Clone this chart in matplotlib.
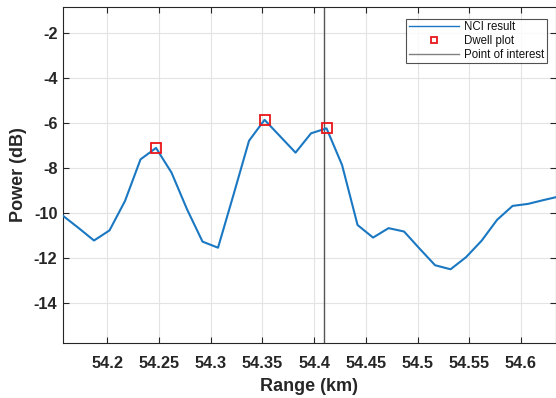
import numpy as np
import matplotlib
matplotlib.use('Agg')
import matplotlib.pyplot as plt

# Dados
range_km = [54.157, 54.172, 54.187, 54.202, 54.217, 54.232, 54.247, 54.262,
            54.277, 54.292, 54.307, 54.322, 54.337, 54.352, 54.367, 54.382,
            54.397, 54.412, 54.427, 54.442, 54.457, 54.472, 54.487, 54.502,
            54.517, 54.532, 54.547, 54.562, 54.577, 54.592, 54.607, 54.622,
            54.637]
power_db = [-10.14, -10.68, -11.24, -10.79, -9.48, -7.63, -7.12, -8.22,
            -9.85, -11.29, -11.56, -9.2, -6.8, -5.87, -6.6, -7.33,
            -6.47, -6.25, -7.88, -10.55, -11.11, -10.69, -10.84, -11.6,
            -12.34, -12.52, -11.98, -11.25, -10.32, -9.7, -9.61, -9.44,
            -9.28]
dwell_x = [54.247, 54.352, 54.412]
dwell_y = [-7.12, -5.87, -6.25]
poi_x = 54.41

xticks = [54.2, 54.25, 54.3, 54.35, 54.4, 54.45, 54.5, 54.55, 54.6]
xtick_labels = ['54.2', '54.25', '54.3', '54.35', '54.4', '54.45', '54.5', '54.55', '54.6']
yticks = [-14, -12, -10, -8, -6, -4, -2]

plt.rcParams['font.family'] = ['Liberation Sans', 'DejaVu Sans']

fig = plt.figure(figsize=(5.56, 3.98), dpi=100)
ax = fig.add_axes([0.1133, 0.1382, 0.8867, 0.8442])

ax.plot(range_km, power_db, color='#1a78c2', lw=1.5, label='NCI result', zorder=3)
ax.plot(dwell_x, dwell_y, ls='none', marker='s', ms=7, mfc='none', mec='#e8161b',
        mew=1.3, label='Dwell plot', zorder=4)
ax.axvline(poi_x, color='#555555', lw=1.0, label='Point of interest', zorder=2)

ax.set_xlim(54.157, 54.634)
ax.set_ylim(-15.8, -0.85)
ax.set_xticks(xticks)
ax.set_xticklabels(xtick_labels)
ax.set_yticks(yticks)
ax.set_yticklabels([str(v) for v in yticks])

ax.grid(True, color='#e3e3e3', lw=0.8)
ax.set_axisbelow(True)
ax.tick_params(direction='in', top=True, right=True, length=4, width=0.8,
               colors='#262626', labelsize=11.8)
ax.tick_params(axis='x', pad=9.5)
ax.tick_params(axis='y', pad=4)
for lab in ax.get_xticklabels() + ax.get_yticklabels():
    lab.set_fontweight('bold')
for s in ax.spines.values():
    s.set_color('#262626')
    s.set_linewidth(0.8)

ax.set_xlabel('Range (km)', fontsize=13, fontweight='bold', color='#262626', labelpad=5)
ax.set_ylabel('Power (dB)', fontsize=13, fontweight='bold', color='#262626', labelpad=5)

leg = ax.legend(loc='upper right', fontsize=8.3, frameon=True, fancybox=False,
                edgecolor='#262626', borderpad=0.2, labelspacing=0.15,
                handlelength=4.4, handletextpad=0.4, borderaxespad=0,
                bbox_to_anchor=(0.981, 0.964))
leg.get_frame().set_linewidth(0.8)
for t in leg.get_texts():
    t.set_color('#111111')
leg.get_lines()[0].set_linewidth(1.0)
leg.get_lines()[2].set_linewidth(1.0)
leg.get_lines()[2].set_color('#808080')
leg.legend_handles[1].set_markersize(5)

fig.savefig('out.png', dpi=100)
